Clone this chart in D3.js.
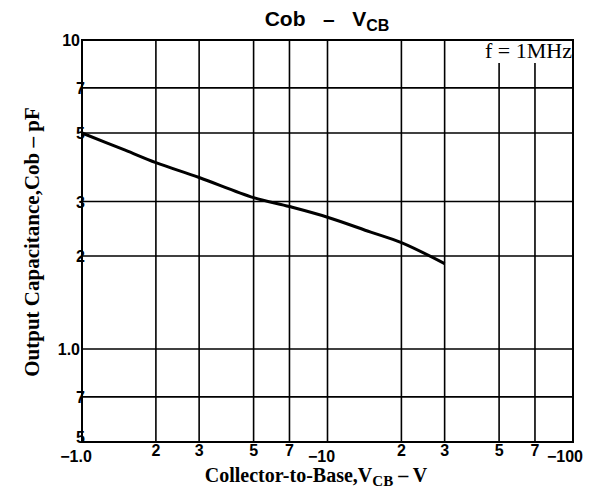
<!DOCTYPE html>
<html>
<head>
<meta charset="utf-8">
<script src="https://cdn.jsdelivr.net/npm/d3@7"></script>
<style>
  body { margin: 0; background: #fff; }
  svg { display: block; }
</style>
</head>
<body>
<div id="chart"></div>
<script>
// curve (|VCB| in V, Cob in pF)
var vcb = [1, 1.5, 2, 3, 5, 7, 10, 15, 20, 30];
var cob = [5.0, 4.4, 4.01, 3.59, 3.09, 2.89, 2.67, 2.39, 2.21, 1.89];

var xTicks = [1, 2, 3, 5, 7, 10, 20, 30, 50, 70, 100];
var xTickLabels = ["\u22121.0", "2", "3", "5", "7", "\u221210", "2", "3", "5", "7", "\u2212100"];
var yTicks = [0.5, 0.7, 1, 2, 3, 5, 7, 10];
var yTickLabels = ["5", "7", "1.0", "2", "3", "5", "7", "10"];

var W = 589, H = 491;
var m = { left: 82, right: 573, top: 40, bottom: 442 };

var svg = d3.select("#chart").append("svg").attr("width", W).attr("height", H);

var x = d3.scaleLog().domain([1, 100]).range([m.left, m.right]);
var y = d3.scaleLog().domain([0.5, 10]).range([m.bottom, m.top]);

// grid
var grid = svg.append("g").style("stroke", "#000").style("stroke-width", "1.6px");
grid.selectAll("line.v").data(xTicks.slice(1, -1)).enter().append("line")
  .attr("x1", function (d) { return x(d); }).attr("x2", function (d) { return x(d); })
  .attr("y1", function (d) { return d >= 50 ? 63 : m.top; }).attr("y2", m.bottom);
grid.selectAll("line.h").data(yTicks.slice(1, -1)).enter().append("line")
  .attr("x1", m.left).attr("x2", m.right)
  .attr("y1", function (d) { return y(d); }).attr("y2", function (d) { return y(d); });

svg.append("rect").attr("x", m.left).attr("y", m.top).attr("width", m.right - m.left).attr("height", m.bottom - m.top)
  .style("fill", "none").style("stroke", "#000").style("stroke-width", "2px");

// curve
var line = d3.line().curve(d3.curveCatmullRom)
  .x(function (d) { return x(d[0]); }).y(function (d) { return y(d[1]); });
svg.append("path").datum(d3.zip(vcb, cob)).attr("d", line)
  .style("fill", "none").style("stroke", "#000").style("stroke-width", "3px");

// tick labels
var sans = "'Liberation Sans', Arial, sans-serif";
var serif = "'Liberation Serif', 'DejaVu Serif', serif";

svg.append("g").selectAll("text").data(xTicks).enter().append("text")
  .attr("x", function (d) { return x(d); })
  .attr("y", function (d, i) { return (i == 0 || i == 5 || i == 10) ? 462 : 456; })
  .attr("text-anchor", function (d, i) { return i == 10 ? "end" : "middle"; })
  .attr("dx", function (d, i) { return i == 10 ? 10 : (i == 0 || i == 5 ? -6 : 0); })
  .style("font-family", sans).style("font-weight", "bold").style("font-size", "16px")
  .text(function (d, i) { return xTickLabels[i]; });

svg.append("g").selectAll("text").data(yTicks).enter().append("text")
  .attr("x", function (d) { return d == 10 || d == 1 ? m.left - 2 : m.left + 3; })
  .attr("y", function (d) { return d == 0.5 ? y(d) + 1 : y(d) + 6; })
  .attr("text-anchor", "end")
  .style("font-family", sans).style("font-weight", "bold").style("font-size", "16px")
  .text(function (d, i) { return yTickLabels[i]; });

// title
var title = svg.append("text").attr("x", 327).attr("y", 26).attr("text-anchor", "middle")
  .style("font-family", sans).style("font-weight", "bold").style("font-size", "21px")
  .attr("xml:space", "preserve");
title.append("tspan").text("Cob   \u2013   V");
title.append("tspan").attr("dy", 5).style("font-size", "16px").text("CB");

// f = 1MHz note
svg.append("rect").attr("x", 473).attr("y", m.top + 1).attr("width", m.right - 474).attr("height", 21).style("fill", "#fff");
svg.append("text").attr("x", m.right - 1).attr("y", 58).attr("text-anchor", "end")
  .style("font-family", serif).style("font-size", "22px").text("f = 1MHz");

// axis titles
var xt = svg.append("text").attr("x", 316).attr("y", 482).attr("text-anchor", "middle")
  .style("font-family", serif).style("font-weight", "bold").style("font-size", "20px");
xt.append("tspan").text("Collector-to-Base,V");
xt.append("tspan").attr("dy", 4).style("font-size", "15px").text("CB");
xt.append("tspan").attr("dy", -4).text(" \u2013 V");

var yt = svg.append("text").attr("transform", "translate(39,242) rotate(-90)").attr("text-anchor", "middle")
  .style("font-family", serif).style("font-weight", "bold").style("font-size", "21px");
yt.text("Output Capacitance,Cob \u2013 pF");
</script>
</body>
</html>
